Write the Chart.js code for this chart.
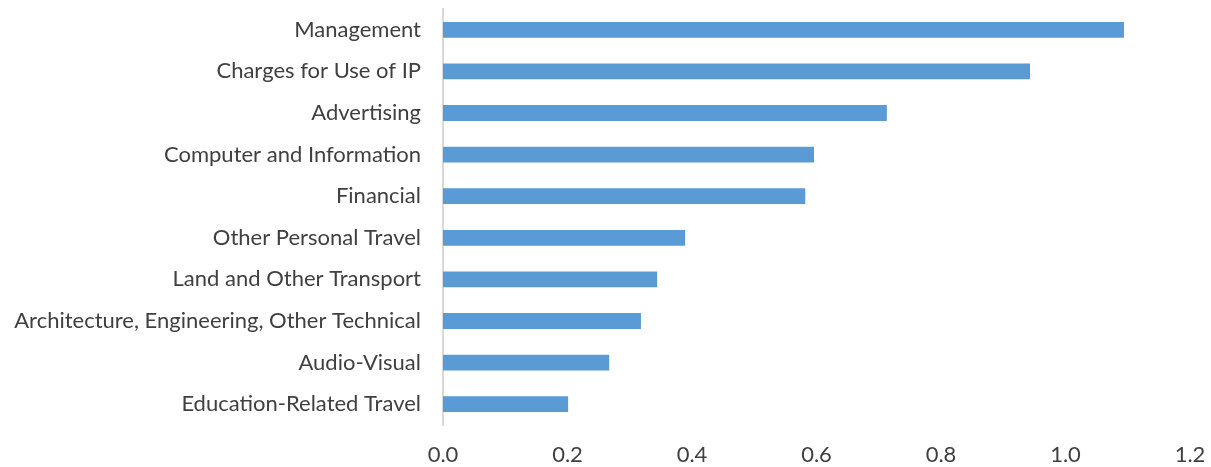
<!DOCTYPE html>
<html>
<head>
<meta charset="utf-8">
<script src="https://cdn.jsdelivr.net/npm/chart.js@4"></script>
<style>
  html, body { margin: 0; padding: 0; background: #fff; }
  #wrap { width: 1211px; height: 467px; position: relative; }
</style>
</head>
<body>
<div id="wrap"><canvas id="chart"></canvas></div>
<script>
const categories = [
  "Management",
  "Charges for Use of IP",
  "Advertising",
  "Computer and Information",
  "Financial",
  "Other Personal Travel",
  "Land and Other Transport",
  "Architecture, Engineering, Other Technical",
  "Audio-Visual",
  "Education-Related Travel",
];
const values = [1.094, 0.943, 0.713, 0.596, 0.582, 0.389, 0.344, 0.318, 0.267, 0.201];
const xTicks = [0, 0.2, 0.4, 0.6, 0.8, 1.0, 1.2];

const textColor = "#404040";
const font = { family: "Lato, 'Open Sans', sans-serif", size: 22 };

// drop the edge padding Chart.js reserves for tick labels, so layout.padding decides
function noEdgePadding(scale) {
  scale.paddingTop = 0;
  scale.paddingBottom = 0;
  scale.paddingLeft = 0;
  scale.paddingRight = 0;
}

new Chart(document.getElementById("chart").getContext("2d"), {
  type: "bar",
  data: {
    labels: categories,
    datasets: [{
      data: values,
      backgroundColor: "#5b9bd5",
      borderWidth: 0,
      barPercentage: 0.38,
      categoryPercentage: 1,
    }],
  },
  options: {
    indexAxis: "y",
    responsive: true,
    maintainAspectRatio: false,
    animation: false,
    layout: { padding: { top: 9, right: 21, left: 0, bottom: 0 } },
    plugins: { legend: { display: false }, tooltip: { enabled: false } },
    scales: {
      x: {
        min: 0,
        max: 1.2,
        afterBuildTicks: (scale) => { scale.ticks = xTicks.map((v) => ({ value: v })); },
        ticks: {
          color: textColor,
          font,
          padding: 17,
          callback: (v) => Number(v).toFixed(1),
        },
        grid: { display: false, drawTicks: false },
        border: { display: false },
        afterFit: (scale) => { scale.height = 42; noEdgePadding(scale); },
      },
      y: {
        ticks: { color: textColor, font, padding: 22 },
        grid: { display: false, drawTicks: false },
        border: { display: true, color: "#d9d9d9", width: 2 },
        afterFit: (scale) => { scale.width = 443; noEdgePadding(scale); },
      },
    },
  },
});
</script>
</body>
</html>
